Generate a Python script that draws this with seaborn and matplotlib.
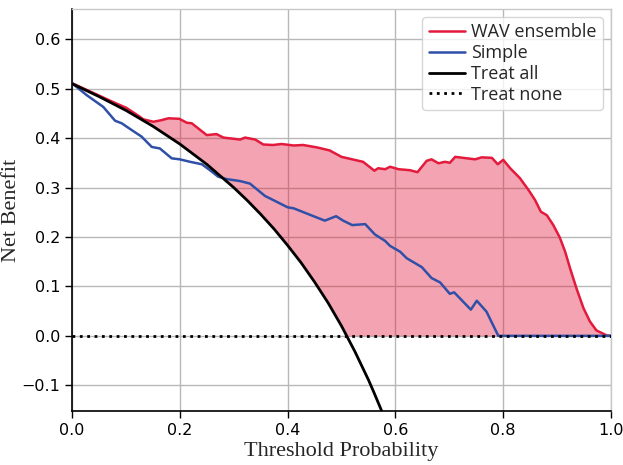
import numpy as np
import pandas as pd
import matplotlib
matplotlib.use("Agg")
import matplotlib.pyplot as plt
import seaborn as sns

# ---- data ----
wav_t = [0.0, 0.03, 0.058, 0.08, 0.101, 0.126, 0.132, 0.151, 0.165, 0.179, 0.199, 0.213,
         0.222, 0.250, 0.268, 0.281, 0.312, 0.321, 0.340, 0.355, 0.373, 0.389, 0.411, 0.429,
         0.455, 0.478, 0.500, 0.540, 0.561, 0.568, 0.581, 0.590, 0.606, 0.627, 0.641, 0.658,
         0.667, 0.680, 0.692, 0.701, 0.711, 0.748, 0.760, 0.779, 0.790, 0.800, 0.813, 0.831,
         0.847, 0.859, 0.870, 0.881, 0.893, 0.905, 0.915, 0.924, 0.936, 0.949, 0.961, 0.973,
         0.992, 1.0]
wav_nb = [0.511, 0.496, 0.482, 0.471, 0.461, 0.443, 0.438, 0.433, 0.436, 0.440, 0.439, 0.431,
          0.430, 0.406, 0.408, 0.401, 0.397, 0.401, 0.397, 0.387, 0.386, 0.388, 0.385, 0.386,
          0.381, 0.375, 0.362, 0.352, 0.334, 0.339, 0.337, 0.342, 0.337, 0.335, 0.331, 0.354,
          0.357, 0.349, 0.352, 0.350, 0.362, 0.357, 0.361, 0.360, 0.347, 0.356, 0.339, 0.319,
          0.295, 0.275, 0.251, 0.244, 0.224, 0.199, 0.170, 0.137, 0.096, 0.056, 0.029, 0.011,
          0.001, 0.0]

simple_t = [0.0, 0.027, 0.058, 0.080, 0.092, 0.111, 0.129, 0.148, 0.163, 0.185, 0.200, 0.219,
            0.241, 0.256, 0.271, 0.287, 0.312, 0.330, 0.358, 0.380, 0.400, 0.411, 0.469, 0.490,
            0.503, 0.520, 0.544, 0.562, 0.581, 0.590, 0.609, 0.621, 0.649, 0.667, 0.683, 0.701,
            0.709, 0.740, 0.751, 0.769, 0.791, 1.0]
simple_nb = [0.511, 0.487, 0.463, 0.435, 0.430, 0.416, 0.403, 0.382, 0.379, 0.359, 0.357, 0.352,
             0.347, 0.335, 0.322, 0.317, 0.313, 0.308, 0.283, 0.271, 0.260, 0.258, 0.233, 0.242,
             0.233, 0.224, 0.226, 0.205, 0.192, 0.182, 0.170, 0.157, 0.139, 0.117, 0.108, 0.085,
             0.088, 0.053, 0.071, 0.049, 0.0, 0.0]

all_t = [0.0, 0.05, 0.10, 0.15, 0.20, 0.25, 0.30, 0.325, 0.35, 0.375, 0.40, 0.425, 0.45,
         0.475, 0.50, 0.525, 0.55, 0.56, 0.575]
all_nb = [0.510, 0.484, 0.456, 0.424, 0.388, 0.347, 0.300, 0.274, 0.246, 0.216, 0.183, 0.148,
          0.109, 0.067, 0.020, -0.032, -0.089, -0.114, -0.153]

none_t = [0.0, 1.0]
none_nb = [0.0, 0.0]

labels = ["WAV ensemble", "Simple", "Treat all", "Treat none"]
colors = ["#E31A3C", "#3050A8", "black", "black"]

# ---- style ----
sns.set_style("ticks", {"axes.grid": True, "grid.color": "#b8b8b8",
                        "axes.edgecolor": "black"})
plt.rcParams["font.family"] = ["DejaVu Sans"]

fig = plt.figure(figsize=(6.23, 4.65), dpi=100)
ax = fig.add_axes([0.1156, 0.1161, 0.8651, 0.8645])

df_wav = pd.DataFrame({"t": wav_t, "nb": wav_nb})
df_simple = pd.DataFrame({"t": simple_t, "nb": simple_nb})
df_all = pd.DataFrame({"t": all_t, "nb": all_nb})
df_none = pd.DataFrame({"t": none_t, "nb": none_nb})

# shaded area between model curve and the best default strategy (drawing grid)
grid_t = np.linspace(0.0, 1.0, 2001)
upper = np.interp(grid_t, wav_t, wav_nb)
lower = np.maximum(np.interp(grid_t, all_t, all_nb, right=-1.0), 0.0)
ax.fill_between(grid_t, upper, lower, where=upper >= lower, interpolate=True,
                color="#E31A3C", alpha=0.4, linewidth=0, zorder=1)

sns.lineplot(data=df_wav, x="t", y="nb", ax=ax, color=colors[0], lw=1.8,
             label=labels[0], sort=False, estimator=None, zorder=3)
sns.lineplot(data=df_simple, x="t", y="nb", ax=ax, color=colors[1], lw=1.8,
             label=labels[1], sort=False, estimator=None, zorder=3)
sns.lineplot(data=df_all, x="t", y="nb", ax=ax, color=colors[2], lw=2.0,
             label=labels[2], sort=False, estimator=None, zorder=4)
sns.lineplot(data=df_none, x="t", y="nb", ax=ax, color=colors[3], lw=2.0, ls=":",
             label=labels[3], sort=False, estimator=None, zorder=5)

ax.set_xlim(0, 1.0)
ax.set_ylim(-0.152, 0.661)
ax.set_xticks([0.0, 0.2, 0.4, 0.6, 0.8, 1.0])
ax.set_yticks([-0.1, 0.0, 0.1, 0.2, 0.3, 0.4, 0.5, 0.6])
ax.tick_params(axis="both", labelsize=11.5, direction="out", length=5, width=1,
               colors="black")
ax.grid(True, color="#b8b8b8", lw=1)
ax.set_axisbelow(True)

for s in ["left", "bottom"]:
    ax.spines[s].set_color("black")
    ax.spines[s].set_linewidth(1.2)
for s in ["top", "right"]:
    ax.spines[s].set_color("#c8c8c8")
    ax.spines[s].set_linewidth(1.0)

ax.set_xlabel("Threshold Probability", fontsize=16,
              family=["Liberation Serif", "DejaVu Serif"], labelpad=3)
ax.set_ylabel("Net Benefit", fontsize=16,
              family=["Liberation Serif", "DejaVu Serif"], labelpad=1)
ax.yaxis.set_label_coords(-0.095, 0.5)

leg = ax.legend(loc="upper right", prop={"family": "Open Sans", "size": 13},
                handlelength=2.0, labelspacing=0.15, borderpad=0.35,
                handletextpad=0.35, borderaxespad=0.45, frameon=True)
leg.get_frame().set_edgecolor("#cccccc")

fig.savefig("out.png", dpi=100)
